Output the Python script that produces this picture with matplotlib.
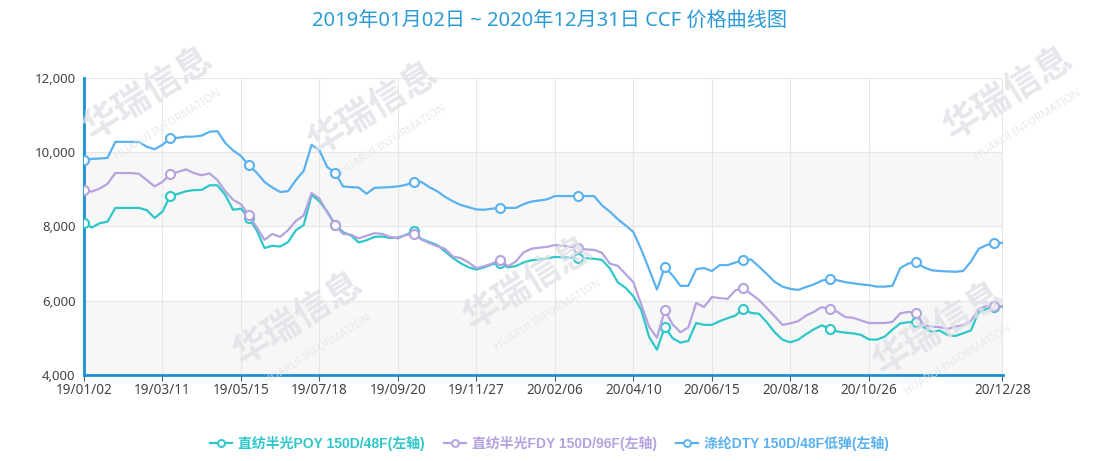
import matplotlib.pyplot as plt
from matplotlib.lines import Line2D

plt.rcParams['font.family'] = ['Noto Sans', 'Noto Sans CJK SC', 'DejaVu Sans']

# tick labels on the category axis (index positions of the labelled points)
tick_labels = ['19/01/02', '19/03/11', '19/05/15', '19/07/18', '19/09/20', '19/11/27',
               '20/02/06', '20/04/10', '20/06/15', '20/08/18', '20/10/26', '20/12/28']
tick_index = [0, 10, 20, 30, 40, 50, 60, 70, 80, 90, 100, 117]

poy = [8100, 7970, 8090, 8130, 8500, 8500, 8500, 8500, 8440, 8230,
       8400, 8830, 8880, 8950, 8980, 8985, 9110, 9110, 8850, 8450,
       8480, 8230, 7900, 7420, 7480, 7460, 7580, 7900, 8040, 8850,
       8680, 8400, 8050, 7850, 7760, 7570, 7630, 7720, 7730, 7690,
       7700, 7770, 7880, 7660, 7580, 7500, 7330, 7150, 7010, 6900,
       6840, 6900, 6980, 7020, 6900, 6930, 7030, 7090, 7110, 7140,
       7180, 7170, 7160, 7150, 7150, 7130, 7100, 6870, 6500, 6350,
       6120, 5750, 5030, 4680, 5290, 4990, 4870, 4920, 5400, 5350,
       5350, 5450, 5530, 5600, 5790, 5670, 5650, 5420, 5150, 4950,
       4880, 4950, 5100, 5230, 5340, 5240, 5170, 5140, 5120, 5080,
       4960, 4950, 5030, 5220, 5390, 5420, 5430, 5280, 5160, 5200,
       5080, 5050, 5120, 5200, 5700, 5780, 5820, 5840]

fdy = [8980, 8940, 9020, 9150, 9440, 9440, 9440, 9420, 9250, 9080,
       9200, 9420, 9470, 9540, 9440, 9380, 9430, 9250, 8950, 8720,
       8600, 8300, 7980, 7640, 7800, 7720, 7900, 8150, 8300, 8900,
       8750, 8380, 8040, 7800, 7780, 7680, 7750, 7820, 7800, 7720,
       7680, 7770, 7800, 7650, 7550, 7470, 7400, 7190, 7150, 7030,
       6880, 6930, 7000, 7100, 6930, 7050, 7300, 7400, 7430, 7450,
       7500, 7480, 7450, 7420, 7380, 7370, 7290, 7000, 6940, 6720,
       6500, 5900, 5300, 5000, 5740, 5360, 5150, 5280, 5940, 5830,
       6100, 6070, 6050, 6280, 6340, 6180, 6020, 5800, 5580, 5350,
       5390, 5450, 5600, 5700, 5830, 5780, 5700, 5560, 5540, 5470,
       5400, 5400, 5400, 5430, 5660, 5700, 5670, 5340, 5300, 5290,
       5240, 5300, 5340, 5450, 5780, 5860, 5850, 5850]

dty = [9800, 9820, 9830, 9850, 10280, 10280, 10280, 10270, 10150, 10080,
       10200, 10380, 10390, 10420, 10420, 10450, 10550, 10570, 10250, 10050,
       9900, 9650, 9450, 9200, 9050, 8930, 8950, 9250, 9500, 10200,
       10050, 9600, 9450, 9080, 9060, 9050, 8880, 9040, 9050, 9060,
       9080, 9120, 9200, 9200, 9060, 8950, 8800, 8680, 8580, 8520,
       8460, 8450, 8480, 8500, 8500, 8500, 8600, 8670, 8700, 8730,
       8820, 8820, 8820, 8820, 8820, 8820, 8570, 8400, 8200, 8030,
       7850, 7380, 6850, 6300, 6900, 6680, 6400, 6400, 6850, 6880,
       6800, 6960, 6960, 7030, 7100, 7110, 6920, 6720, 6510, 6380,
       6320, 6290, 6370, 6440, 6540, 6590, 6550, 6500, 6470, 6440,
       6420, 6380, 6380, 6400, 6880, 7000, 7040, 6900, 6820, 6800,
       6790, 6780, 6800, 7050, 7400, 7500, 7550, 7560]

series_names = ['直纺半光POY 150D/48F(左轴)', '直纺半光FDY 150D/96F(左轴)', '涤纶DTY 150D/48F低弹(左轴)']
colors = ['#2ec7c9', '#b6a2de', '#5ab1ef']
marker_idx = [0, 11, 21, 32, 42, 53, 63, 74, 84, 95, 106, 116]

fig = plt.figure(figsize=(10.99, 4.61), dpi=100)
ax = fig.add_axes([0.0764, 0.1866, 0.8363, 0.6442])

# alternating background bands
ax.axhspan(4000, 6000, color='#f7f7f7', zorder=0)
ax.axhspan(8000, 10000, color='#f7f7f7', zorder=0)

# watermark
for (px, py) in [(150, 95), (375, 110), (1010, 95), (300, 320), (530, 285), (940, 330)]:
    fig.text(px / 1099, 1 - py / 461, '华瑞信息', fontsize=26, fontweight='bold', color='#dfe1e6',
             rotation=32, ha='center', va='center', zorder=0.5, alpha=0.8)
    fig.text((px + 18) / 1099, 1 - (py + 30) / 461, 'HUARUI INFORMATION', fontsize=8, color='#e2e4e8',
             rotation=32, ha='center', va='center', zorder=0.5, alpha=0.8)

x = list(range(len(poy)))
for vals, col in zip([poy, fdy, dty], colors):
    ax.plot(x, vals, color=col, lw=1.6, marker='o', markevery=marker_idx, markersize=6.5,
            markerfacecolor='white', markeredgecolor=col, markeredgewidth=1.5, zorder=3)

ax.set_xlim(0, 117.1)
ax.set_ylim(4000, 12000)
ax.set_yticks([4000, 6000, 8000, 10000, 12000])
ax.set_yticklabels(['4,000', '6,000', '8,000', '10,000', '12,000'])
ax.set_xticks(tick_index)
ax.set_xticklabels(tick_labels)
ax.grid(True, color='#e6e6e6', lw=0.8, zorder=1)
ax.set_axisbelow(True)

for s in ['top', 'right']:
    ax.spines[s].set_visible(False)
for s in ['left', 'bottom']:
    ax.spines[s].set_color('#1b8fd6')
    ax.spines[s].set_linewidth(2)
ax.tick_params(axis='x', length=4, color='#555555', labelcolor='#444444', labelsize=9.8, pad=2)
ax.tick_params(axis='y', length=0, labelcolor='#444444', labelsize=9.5, pad=6)

fig.text(0.5, 1 - 22 / 461, '2019年01月02日 ~ 2020年12月31日 CCF 价格曲线图', ha='center', va='center',
         fontsize=14.5, color='#2b9bd8')

handles = [Line2D([0], [0], color=c, lw=1.6, marker='o', markersize=5, markerfacecolor='white',
                  markeredgecolor=c, markeredgewidth=1.4) for c in colors]
leg = fig.legend(handles, series_names, loc='center', bbox_to_anchor=(0.5, 1 - 443 / 461), ncol=3,
                 frameon=False, handlelength=1.6, columnspacing=1.4, handletextpad=0.4,
                 prop={'family': ['Liberation Sans', 'Noto Sans CJK SC'], 'size': 10, 'weight': 'bold'})
for t, c in zip(leg.get_texts(), colors):
    t.set_color(c)

fig.savefig('out.png', dpi=100)
